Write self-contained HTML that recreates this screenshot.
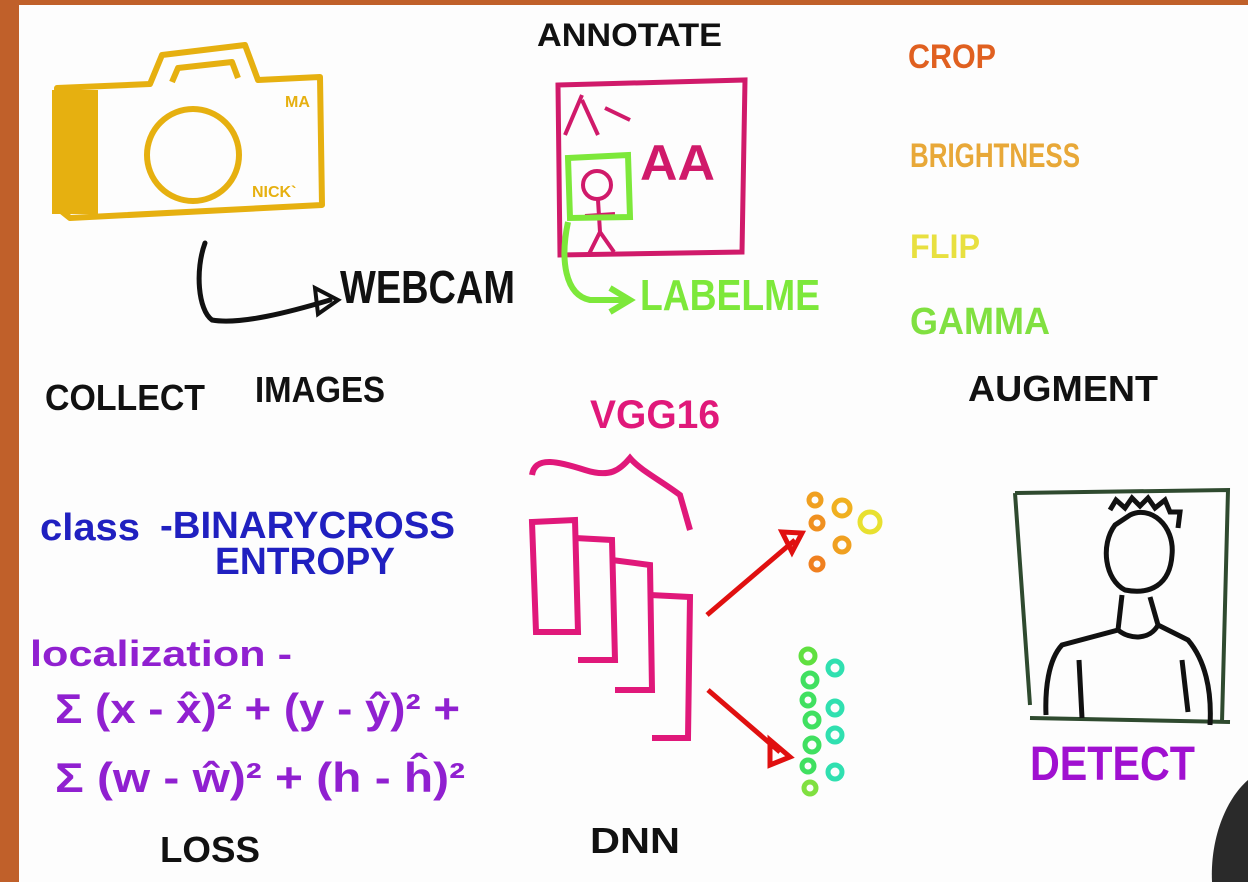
<!DOCTYPE html>
<html><head><meta charset="utf-8"><style>
html,body{margin:0;padding:0;background:#fff;}
svg{display:block}
text{font-family:"Liberation Sans",sans-serif;font-weight:bold;}
</style></head><body>
<svg width="1248" height="882" viewBox="0 0 1248 882" xmlns="http://www.w3.org/2000/svg">
<rect width="1248" height="882" fill="#fdfdfd"/>
<rect x="0" y="0" width="1248" height="5" fill="#c0602a"/>
<rect x="0" y="0" width="19" height="882" fill="#c0602a"/>
<!-- camera -->
<g fill="none" stroke="#e6b010" stroke-width="6" stroke-linejoin="round">
<path d="M57 88 L150 84 L162 55 L245 45 L258 80 L320 77 L322 205 L70 218 L60 210 Z"/>
<path d="M172 82 L178 68 L232 62 L238 78"/>
<circle cx="193" cy="155" r="46"/>
</g>
<rect x="52" y="90" width="46" height="124" fill="#e6b010"/>
<text x="285" y="107" font-size="16" fill="#e6b010">MA</text>
<text x="252" y="197" font-size="16" fill="#e6b010">NICK`</text>
<!-- webcam arrow -->
<path d="M205 243 C195 270 198 310 212 320 C240 325 290 312 330 300" fill="none" stroke="#111" stroke-width="5" stroke-linecap="round"/>
<path d="M315 288 L338 300 L318 314 Z" fill="none" stroke="#111" stroke-width="4"/>
<text x="340" y="303" font-size="46" fill="#111" textLength="175" lengthAdjust="spacingAndGlyphs">WEBCAM</text>
<!-- annotate -->
<text x="537" y="46" font-size="32" fill="#111" textLength="185" lengthAdjust="spacingAndGlyphs">ANNOTATE</text>
<path d="M558 85 L745 80 L742 252 L560 255 Z" fill="none" stroke="#d01a6a" stroke-width="5"/>
<path d="M565 135 L582 95 M582 100 L598 135 M605 108 L630 120" stroke="#d01a6a" stroke-width="4" fill="none"/>
<text x="640" y="180" font-size="50" fill="#d01a6a" textLength="75" lengthAdjust="spacingAndGlyphs">AA</text>
<circle cx="597" cy="185" r="14" fill="none" stroke="#d01a6a" stroke-width="4"/>
<path d="M598 200 L600 232 M585 216 L615 214 M600 232 L588 256 M600 232 L614 252" stroke="#d01a6a" stroke-width="4" fill="none"/>
<path d="M568 158 L628 155 L630 217 L570 218 Z" fill="none" stroke="#7de83a" stroke-width="6"/>
<path d="M568 222 C560 260 565 295 590 300 L625 300" fill="none" stroke="#7de83a" stroke-width="6"/>
<path d="M610 288 L630 300 L610 312" fill="none" stroke="#7de83a" stroke-width="6"/>
<text x="640" y="310" font-size="44" fill="#7de83a" textLength="180" lengthAdjust="spacingAndGlyphs">LABELME</text>
<!-- augment -->
<text x="908" y="68" font-size="34" fill="#e06020" textLength="88" lengthAdjust="spacingAndGlyphs">CROP</text>
<text x="910" y="167" font-size="34" fill="#e8a838" textLength="170" lengthAdjust="spacingAndGlyphs">BRIGHTNESS</text>
<text x="910" y="258" font-size="34" fill="#e8e040" textLength="70" lengthAdjust="spacingAndGlyphs">FLIP</text>
<text x="910" y="334" font-size="38" fill="#80e040" textLength="140" lengthAdjust="spacingAndGlyphs">GAMMA</text>
<text x="968" y="401" font-size="36" fill="#111" textLength="190" lengthAdjust="spacingAndGlyphs">AUGMENT</text>
<text x="45" y="410" font-size="36" fill="#111" textLength="160" lengthAdjust="spacingAndGlyphs">COLLECT</text>
<text x="255" y="402" font-size="36" fill="#111" textLength="130" lengthAdjust="spacingAndGlyphs">IMAGES</text>
<!-- VGG -->
<text x="590" y="428" font-size="40" fill="#e0187a" textLength="130" lengthAdjust="spacingAndGlyphs">VGG16</text>
<path d="M532 475 C535 455 560 462 585 470 C610 478 620 470 630 458 C640 470 660 480 680 495 L690 530" fill="none" stroke="#e0187a" stroke-width="6"/>
<g fill="none" stroke="#e0187a" stroke-width="6">
<path d="M532 522 L575 520 L578 632 L536 632 Z"/>
<path d="M575 538 L612 540 L615 660 L578 660"/>
<path d="M612 560 L650 565 L652 690 L615 690"/>
<path d="M650 595 L690 597 L688 738 L652 738"/>
</g>
<path d="M707 615 L795 540" stroke="#e01010" stroke-width="5"/>
<path d="M782 532 L802 533 L792 552 Z" fill="none" stroke="#e01010" stroke-width="5"/>
<path d="M708 690 L780 752" stroke="#e01010" stroke-width="5"/>
<path d="M770 740 L790 757 L770 765 Z" fill="none" stroke="#e01010" stroke-width="5"/>
<g fill="none" stroke-width="5">
<circle cx="815" cy="500" r="6" stroke="#f0a020"/><circle cx="842" cy="508" r="8" stroke="#f0b020"/><circle cx="870" cy="522" r="10" stroke="#e8e030"/>
<circle cx="817" cy="523" r="6" stroke="#f09020"/><circle cx="842" cy="545" r="7" stroke="#f0a020"/><circle cx="817" cy="564" r="6" stroke="#f08020"/>
<circle cx="808" cy="656" r="7" stroke="#60e040"/><circle cx="810" cy="680" r="7" stroke="#40e060"/><circle cx="812" cy="720" r="7" stroke="#40e060"/>
<circle cx="812" cy="745" r="7" stroke="#40e060"/><circle cx="810" cy="788" r="6" stroke="#80e040"/><circle cx="808" cy="766" r="6" stroke="#40e060"/><circle cx="808" cy="700" r="6" stroke="#40e060"/>
<circle cx="835" cy="668" r="7" stroke="#30e0b0"/><circle cx="835" cy="708" r="7" stroke="#30e0b0"/><circle cx="835" cy="735" r="7" stroke="#30e0b0"/><circle cx="835" cy="772" r="7" stroke="#30e0b0"/>
</g>
<!-- detect -->
<path d="M1015 493 L1228 490 L1222 722 M1030 718 L1230 722 M1015 493 L1030 705" fill="none" stroke="#2f4a2f" stroke-width="4"/>
<path d="M1110 510 L1116 500 L1125 508 L1132 498 L1140 506 L1148 498 L1155 508 L1165 500 L1170 512 L1180 512 L1178 528" fill="none" stroke="#111" stroke-width="5"/>
<path d="M1115 525 C1100 545 1105 580 1125 590 C1150 595 1170 585 1172 555 C1175 525 1150 505 1130 515 Z" fill="none" stroke="#111" stroke-width="5"/>
<path d="M1122 595 L1118 630 L1062 645 C1048 660 1045 690 1046 715 M1150 597 L1158 625 L1188 640 C1205 660 1212 690 1210 725 M1118 630 C1130 640 1150 640 1158 625 M1079 660 L1082 718 M1182 660 L1188 712" fill="none" stroke="#111" stroke-width="5"/>
<text x="1030" y="780" font-size="48" fill="#a010d0" textLength="165" lengthAdjust="spacingAndGlyphs">DETECT</text>
<path d="M1248 780 C1225 800 1210 840 1212 882 L1248 882 Z" fill="#2a2a2a"/>
<!-- loss -->
<text x="40" y="540" font-size="38" fill="#2020c0" font-weight="normal" textLength="100" lengthAdjust="spacingAndGlyphs">class</text>
<text x="160" y="538" font-size="38" fill="#2020c0" textLength="295" lengthAdjust="spacingAndGlyphs">-BINARYCROSS</text>
<text x="215" y="574" font-size="38" fill="#2020c0" textLength="180" lengthAdjust="spacingAndGlyphs">ENTROPY</text>
<text x="30" y="666" font-size="36" fill="#9020d0" font-weight="normal" textLength="262" lengthAdjust="spacingAndGlyphs">localization -</text>
<text x="55" y="723" font-size="42" fill="#9020d0" font-weight="normal" textLength="405" lengthAdjust="spacingAndGlyphs">Σ (x - x̂)² + (y - ŷ)² +</text>
<text x="55" y="792" font-size="42" fill="#9020d0" font-weight="normal" textLength="410" lengthAdjust="spacingAndGlyphs">Σ (w - ŵ)² + (h - ĥ)²</text>
<text x="160" y="862" font-size="36" fill="#111" textLength="100" lengthAdjust="spacingAndGlyphs">LOSS</text>
<text x="590" y="853" font-size="36" fill="#111" textLength="90" lengthAdjust="spacingAndGlyphs">DNN</text>
</svg>
</body></html>
